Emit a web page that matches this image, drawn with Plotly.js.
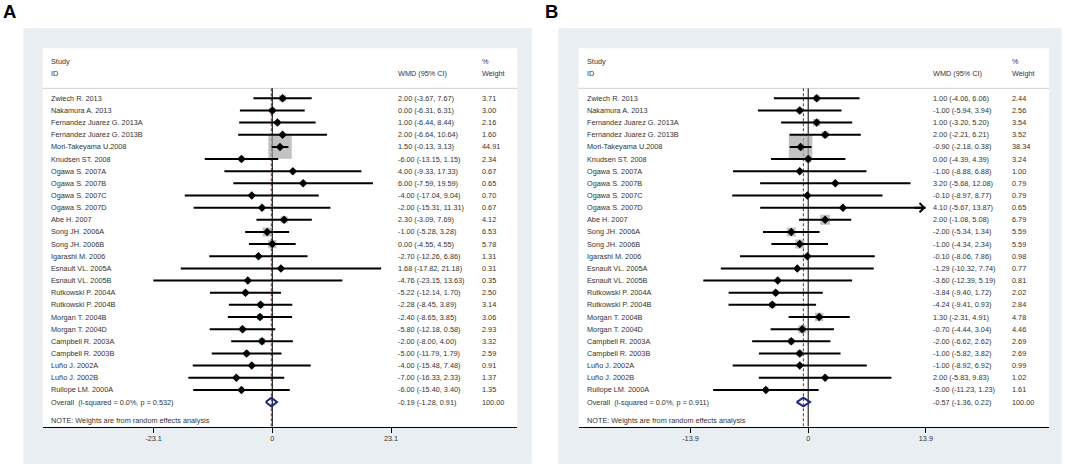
<!DOCTYPE html>
<html><head><meta charset="utf-8">
<script src="https://cdn.plot.ly/plotly-3.0.1.min.js"></script>
<style>html,body{margin:0;padding:0;background:#fff}</style>
</head><body><div id="chart" style="width:1065px;height:469px"></div>
<script>
// ---------- DATA ----------
const studies = ['Zwiech R. 2013','Nakamura A. 2013','Fernandez Juarez G. 2013A','Fernandez Juarez G. 2013B',
  'Mori-Takeyama U.2008','Knudsen ST. 2008','Ogawa S. 2007A','Ogawa S. 2007B','Ogawa S. 2007C','Ogawa S. 2007D',
  'Abe H. 2007','Song JH. 2006A','Song JH. 2006B','Igarashi M. 2006','Esnault VL. 2005A','Esnault VL. 2005B',
  'Rutkowski P. 2004A','Rutkowski P. 2004B','Morgan T. 2004B','Morgan T. 2004D','Campbell R. 2003A',
  'Campbell R. 2003B','Luño J. 2002A','Luño J. 2002B','Ruilope LM. 2000A'];

const wmdA   = [2.00,0.00,1.00,2.00,1.50,-6.00,4.00,6.00,-4.00,-2.00,2.30,-1.00,0.00,-2.70,1.68,-4.76,-5.22,-2.28,-2.40,-5.80,-2.00,-5.00,-4.00,-7.00,-6.00];
const lowerA = [-3.67,-6.31,-6.44,-6.64,-0.13,-13.15,-9.33,-7.59,-17.04,-15.31,-3.09,-5.28,-4.55,-12.26,-17.82,-23.15,-12.14,-8.45,-8.65,-12.18,-8.00,-11.79,-15.48,-16.33,-15.40];
const upperA = [7.67,6.31,8.44,10.64,3.13,1.15,17.33,19.59,9.04,11.31,7.69,3.28,4.55,6.86,21.18,13.63,1.70,3.89,3.85,0.58,4.00,1.79,7.48,2.33,3.40];
const weightA= [3.71,3.00,2.16,1.60,44.91,2.34,0.67,0.65,0.70,0.67,4.12,6.53,5.78,1.31,0.31,0.35,2.50,3.14,3.06,2.93,3.32,2.59,0.91,1.37,1.35];
const overallA = [-0.19,-1.28,0.91];
const hetA = ['0.0%','0.532'];
const ticksA = [-23.1,0,23.1];

const wmdB   = [1.00,-1.00,1.00,2.00,-0.90,0.00,-1.00,3.20,-0.10,4.10,2.00,-2.00,-1.00,-0.10,-1.29,-3.60,-3.84,-4.24,1.30,-0.70,-2.00,-1.00,-1.00,2.00,-5.00];
const lowerB = [-4.06,-5.94,-3.20,-2.21,-2.18,-4.39,-8.88,-5.68,-8.97,-5.67,-1.08,-5.34,-4.34,-8.06,-10.32,-12.39,-9.40,-9.41,-2.31,-4.44,-6.62,-5.82,-8.92,-5.83,-11.23];
const upperB = [6.06,3.94,5.20,6.21,0.38,4.39,6.88,12.08,8.77,13.87,5.08,1.34,2.34,7.86,7.74,5.19,1.72,0.93,4.91,3.04,2.62,3.82,6.92,9.83,1.23];
const weightB= [2.44,2.56,3.54,3.52,38.34,3.24,1.00,0.79,0.79,0.65,6.79,5.59,5.59,0.98,0.77,0.81,2.02,2.84,4.78,4.46,2.69,2.69,0.99,1.02,1.61];
const overallB = [-0.57,-1.36,0.22];
const hetB = ['0.0%','0.911'];
const ticksB = [-13.9,0,13.9];
const truncatedB = ['Ogawa S. 2007D'];
const totalWeight = 100.00;

// ---------- LAYOUT HELPERS ----------
const W = 1065, H = 469;
const FONT = 'Liberation Sans, Arial, Helvetica, sans-serif';
const TXT = '#333333';
const px = v => v / W;
const py = v => 1 - v / H;
const ROW0 = 98.3, ROWH = 12.15;              // pixel of first row, row pitch
const rowOf = pix => (pix - ROW0) / ROWH;
const AXIS_PIX = 426.7, TOP_PIX = 48.3;

const traces = [], shapes = [], annotations = [];
const f2 = v => v.toFixed(2);

function panel(cfg) {
  const {xa, wmd, lo, hi, wt, ov, het, label, outer, inner, colWmd, colWt, truncated} = cfg;
  const n = studies.length;
  const rows = studies.map((_, i) => i);
  const yref = 'y';
  // boxes
  shapes.push({type:'rect', xref:'paper', yref:'paper', layer:'below',
    x0:px(outer[0]), x1:px(outer[1]), y0:py(outer[3]), y1:py(outer[2]),
    fillcolor:'#e8eef2', line:{width:0}});
  shapes.push({type:'rect', xref:'paper', yref:'paper', layer:'below',
    x0:px(inner[0]), x1:px(inner[1]), y0:py(AXIS_PIX), y1:py(TOP_PIX),
    fillcolor:'#ffffff', line:{width:0}});
  // header separator
  shapes.push({type:'line', xref:'paper', yref:yref, layer:'below',
    x0:px(inner[0]), x1:px(inner[1]), y0:rowOf(88.3), y1:rowOf(88.3),
    line:{color:'#cfcfcf', width:1}});
  // null line and overall line
  shapes.push({type:'line', xref:xa, yref:yref, layer:'below', x0:0, x1:0,
    y0:rowOf(88.3), y1:rowOf(AXIS_PIX), line:{color:'#000000', width:1}});
  shapes.push({type:'line', xref:xa, yref:yref, layer:'below', x0:ov[0], x1:ov[0],
    y0:rowOf(88.3), y1:rowOf(AXIS_PIX), line:{color:'#9a1c1c', width:1, dash:'3px,2px'}});

  const wmax = Math.max(...wt);
  // weight squares
  traces.push({type:'scatter', mode:'markers', xaxis:xa, yaxis:yref, x:wmd, y:rows,
    marker:{symbol:'square', color:'#a8a8a8', size:wt.map(w => 23.5*Math.sqrt(w/wmax)), line:{width:0}},
    hoverinfo:'skip', showlegend:false});
  // CI lines
  const cx = [], cy = [];
  for (let i = 0; i < n; i++) { cx.push(lo[i], hi[i], null); cy.push(i, i, null); }
  traces.push({type:'scatter', mode:'lines', xaxis:xa, yaxis:yref, x:cx, y:cy,
    line:{color:'#000000', width:2}, hoverinfo:'skip', showlegend:false});
  // point estimates
  traces.push({type:'scatter', mode:'markers', xaxis:xa, yaxis:yref, x:wmd, y:rows,
    marker:{symbol:'diamond', color:'#000000', size:6.5}, hoverinfo:'skip', showlegend:false});
  // overall diamond
  const r = n, h = 0.36;
  traces.push({type:'scatter', mode:'lines', xaxis:xa, yaxis:yref,
    x:[ov[1], ov[0], ov[2], ov[0], ov[1]], y:[r, r-h, r, r+h, r],
    line:{color:'#1b2680', width:2}, hoverinfo:'skip', showlegend:false});
  // truncation arrows
  (truncated || []).forEach(s => {
    const i = studies.indexOf(s);
    annotations.push({xref:xa, yref:yref, axref:xa, ayref:yref, x:hi[i], y:i, ax:hi[i]-1.5, ay:i,
      text:'', showarrow:true, arrowhead:4, arrowsize:0.9, arrowwidth:2, arrowcolor:'#000000', standoff:0});
  });

  // texts
  const T = (x, y, t, extra) => annotations.push(Object.assign({xref:'paper', yref:yref, x:px(x), y:y,
    xanchor:'left', yanchor:'middle', text:t, showarrow:false, borderpad:0,
    font:{family:FONT, size:7.3, color:TXT}}, extra || {}));
  const colStudy = inner[0] + 7;
  T(colStudy, rowOf(61.7), 'Study');
  T(colStudy, rowOf(73.3), 'ID');
  T(colWmd, rowOf(73.3), 'WMD (95% CI)');
  T(colWt, rowOf(61.7), '%');
  T(colWt, rowOf(73.3), 'Weight');
  for (let i = 0; i < n; i++) {
    T(colStudy, i, studies[i]);
    T(colWmd, i, f2(wmd[i]) + ' (' + f2(lo[i]) + ', ' + f2(hi[i]) + ')');
    T(colWt, i, f2(wt[i]));
  }
  T(colStudy, r, 'Overall  (I-squared = ' + het[0] + ', p = ' + het[1] + ')');
  T(colWmd, r, f2(ov[0]) + ' (' + f2(ov[1]) + ', ' + f2(ov[2]) + ')');
  T(colWt, r, f2(totalWeight));
  T(colStudy, rowOf(420.5), 'NOTE: Weights are from random effects analysis');
  // panel letter
  annotations.push({xref:'paper', yref:'paper', x:px(label[1]), y:py(11), xanchor:'left', yanchor:'middle',
    text:'<b>' + label[0] + '</b>', showarrow:false, borderpad:0, font:{family:FONT, size:18.5, color:'#000'}});
}

panel({xa:'x', wmd:wmdA, lo:lowerA, hi:upperA, wt:weightA, ov:overallA, het:hetA, label:['A', 1.5],
  outer:[23.3, 531.7, 28.3, 464], inner:[42.7, 517.3], colWmd:396.5, colWt:481});
panel({xa:'x2', wmd:wmdB, lo:lowerB, hi:upperB, wt:weightB, ov:overallB, het:hetB, label:['B', 543.5],
  outer:[558.3, 1061.7, 28.3, 464], inner:[578.5, 1049], colWmd:932, colWt:1011, truncated:truncatedB});

// axis ranges: zero pixel and px-per-unit
function axis(domPix, zeroPix, scale, ticks) {
  return {domain:[px(domPix[0]), px(domPix[1])],
    range:[(domPix[0]-zeroPix)/scale, (domPix[1]-zeroPix)/scale],
    anchor:'y', showgrid:false, zeroline:false, showline:true, linecolor:'#000', linewidth:1,
    ticks:'outside', ticklen:5, tickwidth:1, tickcolor:'#000',
    tickvals:ticks, ticktext:ticks.map(String),
    tickfont:{family:FONT, size:7.3, color:TXT}, fixedrange:true};
}
const layout = {
  width:W, height:H, margin:{l:0, r:0, t:0, b:0},
  paper_bgcolor:'#ffffff', plot_bgcolor:'rgba(0,0,0,0)', showlegend:false,
  xaxis: axis([42.7, 517.3], 272.3, 118.7/23.1, ticksA),
  xaxis2: axis([578.5, 1049], 808.2, 117.7/13.9, ticksB),
  yaxis: {domain:[py(AXIS_PIX), py(TOP_PIX)], range:[rowOf(AXIS_PIX), rowOf(TOP_PIX)],
    visible:false, fixedrange:true},
  shapes, annotations
};
Plotly.newPlot('chart', traces, layout, {displayModeBar:false, staticPlot:true});
</script></body></html>
